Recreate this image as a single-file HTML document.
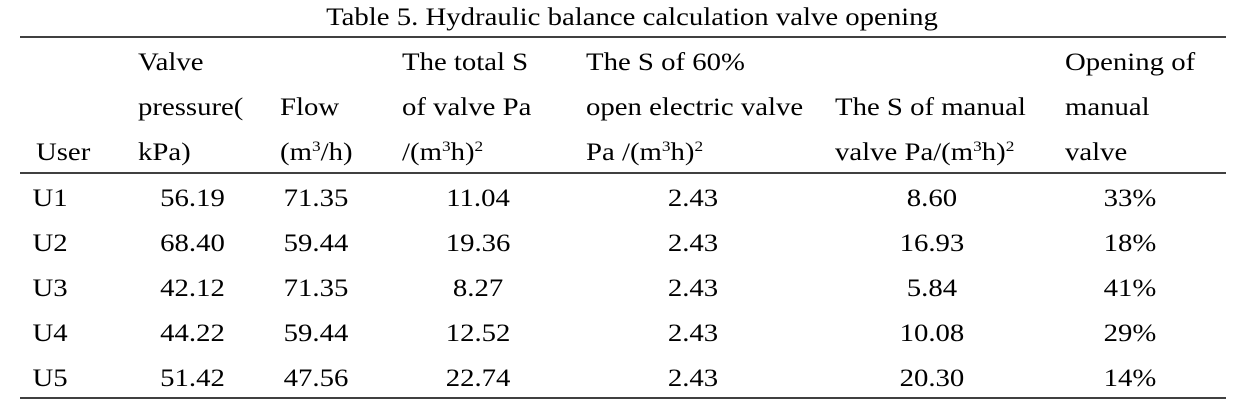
<!DOCTYPE html>
<html><head><meta charset="utf-8"><style>
body{margin:0;background:#fff}
svg{display:block}
text{font-family:"Liberation Serif",serif;font-size:25px;fill:#000}
</style></head><body>
<svg width="1245" height="411" xmlns="http://www.w3.org/2000/svg">
<line x1="20" y1="37" x2="1226" y2="37" stroke="#000" stroke-width="1.5"/>
<line x1="20" y1="173" x2="1226" y2="173" stroke="#000" stroke-width="1.5"/>
<line x1="20" y1="398" x2="1226" y2="398" stroke="#000" stroke-width="1.5"/>
<g transform="scale(1.15,1)">
<text x="549.6" y="25" text-anchor="middle">Table 5. Hydraulic balance calculation valve opening</text>
<text x="31.3" y="160">User</text>
<text x="120" y="70">Valve</text>
<text x="120" y="115">pressure(</text>
<text x="120" y="160">kPa)</text>
<text x="243.5" y="115">Flow</text>
<text x="243.5" y="160">(m<tspan font-size="15" dy="-9">3</tspan><tspan dy="9">/h)</tspan></text>
<text x="349.6" y="70">The total S</text>
<text x="349.6" y="115">of valve Pa</text>
<text x="349.6" y="160">/(m<tspan font-size="15" dy="-9">3</tspan><tspan dy="9">h)</tspan><tspan font-size="15" dy="-9">2</tspan></text>
<text x="509.6" y="70">The S of 60%</text>
<text x="509.6" y="115">open electric valve</text>
<text x="509.6" y="160">Pa /(m<tspan font-size="15" dy="-9">3</tspan><tspan dy="9">h)</tspan><tspan font-size="15" dy="-9">2</tspan></text>
<text x="726.1" y="115">The S of manual</text>
<text x="726.1" y="160">valve Pa/(m<tspan font-size="15" dy="-9">3</tspan><tspan dy="9">h)</tspan><tspan font-size="15" dy="-9">2</tspan></text>
<text x="926.1" y="70">Opening of</text>
<text x="926.1" y="115">manual</text>
<text x="926.1" y="160">valve</text>
<g text-anchor="middle">
<text x="43.5" y="206">U1</text><text x="167.4" y="206">56.19</text><text x="274.8" y="206">71.35</text><text x="415.7" y="206">11.04</text><text x="602.6" y="206">2.43</text><text x="810.4" y="206">8.60</text><text x="982.6" y="206">33%</text>
<text x="43.5" y="251">U2</text><text x="167.4" y="251">68.40</text><text x="274.8" y="251">59.44</text><text x="415.7" y="251">19.36</text><text x="602.6" y="251">2.43</text><text x="810.4" y="251">16.93</text><text x="982.6" y="251">18%</text>
<text x="43.5" y="296">U3</text><text x="167.4" y="296">42.12</text><text x="274.8" y="296">71.35</text><text x="415.7" y="296">8.27</text><text x="602.6" y="296">2.43</text><text x="810.4" y="296">5.84</text><text x="982.6" y="296">41%</text>
<text x="43.5" y="341">U4</text><text x="167.4" y="341">44.22</text><text x="274.8" y="341">59.44</text><text x="415.7" y="341">12.52</text><text x="602.6" y="341">2.43</text><text x="810.4" y="341">10.08</text><text x="982.6" y="341">29%</text>
<text x="43.5" y="386">U5</text><text x="167.4" y="386">51.42</text><text x="274.8" y="386">47.56</text><text x="415.7" y="386">22.74</text><text x="602.6" y="386">2.43</text><text x="810.4" y="386">20.30</text><text x="982.6" y="386">14%</text>
</g>
</g>
</svg>
</body></html>
